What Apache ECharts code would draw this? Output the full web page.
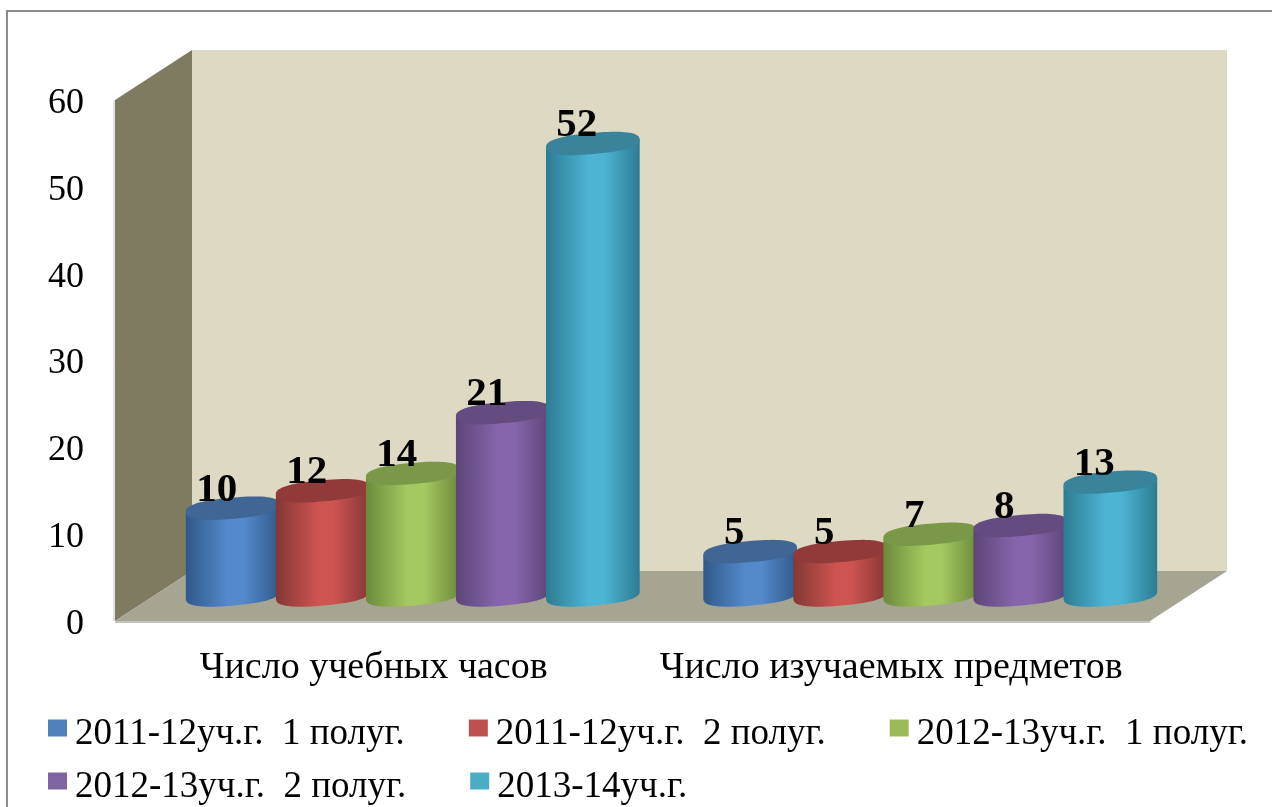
<!DOCTYPE html>
<html>
<head>
<meta charset="utf-8">
<style>
    html, body { margin: 0; padding: 0; background: #fff; }
    #main { width: 1272px; height: 807px; }
</style>
<script src="https://cdn.jsdelivr.net/npm/echarts@6/dist/echarts.min.js"></script>
</head>
<body>
<div id="main"></div>
<script>
const categories = ['Число учебных часов', 'Число изучаемых предметов'];
const seriesNames = ['2011-12уч.г.  1 полуг.', '2011-12уч.г.  2 полуг.', '2012-13уч.г.  1 полуг.', '2012-13уч.г.  2 полуг.', '2013-14уч.г.'];
const hours1112a = [10, 5];
const hours1112b = [12, 5];
const hours1213a = [14, 7];
const hours1213b = [21, 8];
const hours1314 = [52, 13];
const seriesValues = [hours1112a, hours1112b, hours1213a, hours1213b, hours1314];
const legendColors = ['#4F81BD', '#C0504D', '#9BBB59', '#8064A2', '#4BACC6'];
// 每个柱子的 边缘色 / 中间色 / 顶面色
const edgeColors = ['#30598A', '#853735', '#6C8A3C', '#5C4578', '#2C7C92'];
const midColors = ['#5489CC', '#CC5451', '#A6C860', '#8765AC', '#4DB4D4'];
const capColors = ['#3F6694', '#923A39', '#7B9849', '#644B80', '#39849B'];

const serif = '"Liberation Serif", serif';
// 三维纵深偏移
const depthX = 77, depthY = 50;
const barDepthX = 39, barDepthY = 26;
const tilt = -5 * Math.PI / 180;

// 旋转椭圆上的点，指数小于1让两端更圆钝
function ellipsePoint(cx, cy, rx, ry, t) {
    const c = Math.cos(t), s = Math.sin(t);
    const x = rx * Math.sign(c) * Math.pow(Math.abs(c), 0.8);
    const y = ry * Math.sign(s) * Math.pow(Math.abs(s), 0.8);
    return [cx + x * Math.cos(tilt) - y * Math.sin(tilt), cy + x * Math.sin(tilt) + y * Math.cos(tilt)];
}

function renderWalls(params, api) {
    const cs = params.coordSys;
    const x0 = cs.x, x1 = cs.x + cs.width;
    const y0 = api.coord([0, 0])[1], yTop = api.coord([0, 60])[1];
    return {
        type: 'group',
        children: [
            { type: 'polygon', shape: { points: [[x0 + depthX, yTop - depthY], [x1 + depthX, yTop - depthY], [x1 + depthX, y0 - depthY], [x0 + depthX, y0 - depthY]] }, style: { fill: '#DDD9C3' } },
            { type: 'polygon', shape: { points: [[x0, yTop], [x0 + depthX, yTop - depthY], [x0 + depthX, y0 - depthY], [x0, y0]] }, style: { fill: '#7F7B61' } },
            { type: 'polygon', shape: { points: [[x0, y0], [x0 + depthX, y0 - depthY], [x1 + depthX, y0 - depthY], [x1, y0]] }, style: { fill: '#A6A592' } },
            { type: 'line', shape: { x1: x0, y1: y0 + 1, x2: x1, y2: y0 + 1 }, style: { stroke: '#C4C4C4', lineWidth: 2 } },
            { type: 'line', shape: { x1: x0 - 1, y1: yTop, x2: x0 - 1, y2: y0 }, style: { stroke: '#C4C4C4', lineWidth: 1 } }
        ]
    };
}

function makeCylinder(i) {
    return function (params, api) {
        const catIndex = api.value(0);
        const band = api.size([1, 0])[0];
        const top = api.coord([catIndex, api.value(1)]);
        const base = api.coord([catIndex, 0]);
        const step = band * 0.174;
        const rx = step / 2 + 2, ry = 10.5;
        const cx = base[0] + barDepthX + (i - 2) * step;
        const topY = top[1] - barDepthY, baseY = base[1] - barDepthY;
        const body = [], cap = [];
        for (let k = 0; k <= 48; k++) {
            // 下半圆
            const t = Math.PI - Math.PI * k / 48;
            body.push(ellipsePoint(cx, baseY, rx, ry, t));
        }
        body.push(ellipsePoint(cx, topY, rx, ry, 0));
        body.push(ellipsePoint(cx, topY, rx, ry, Math.PI));
        for (let k = 0; k < 72; k++) {
            cap.push(ellipsePoint(cx, topY, rx, ry, Math.PI * 2 * k / 72));
        }
        return {
            type: 'group',
            children: [
                {
                    type: 'polygon',
                    shape: { points: body },
                    style: {
                        fill: new echarts.graphic.LinearGradient(0, 0, 1, 0, [
                            { offset: 0, color: edgeColors[i] },
                            { offset: 0.45, color: midColors[i] },
                            { offset: 0.62, color: midColors[i] },
                            { offset: 1, color: edgeColors[i] }
                        ])
                    }
                },
                { type: 'polygon', shape: { points: cap }, style: { fill: capColors[i] } },
                {
                    type: 'text',
                    z2: 100,
                    style: {
                        text: String(api.value(1)),
                        x: cx - 16,
                        y: topY - 18,
                        align: 'center',
                        verticalAlign: 'middle',
                        font: 'bold 41px ' + serif,
                        fill: '#000'
                    }
                }
            ]
        };
    };
}

const series = [{
    name: 'walls',
    type: 'custom',
    silent: true,
    renderItem: renderWalls,
    data: [[0, 0]],
    z: 1
}];
seriesValues.forEach((values, i) => {
    series.push({
        name: seriesNames[i],
        type: 'custom',
        renderItem: makeCylinder(i),
        itemStyle: { color: legendColors[i] },
        encode: { x: 0, y: 1 },
        data: values.map((v, c) => [c, v]),
        z: 2 + i
    });
});

function legendRow(names, left, top) {
    return {
        data: names.map(n => ({ name: n, icon: 'rect', itemStyle: { color: legendColors[seriesNames.indexOf(n)] } })),
        left: left,
        top: top,
        itemWidth: 19,
        itemHeight: 17,
        itemGap: 64,
        selectedMode: false,
        formatter: name => '{t|' + name + '}',
        // padding要放在rich里才会让文字下移
        textStyle: { rich: { t: { fontFamily: serif, fontSize: 37, color: '#000', padding: [13, 0, 0, 3] } } }
    };
}

let myChart = echarts.init(document.getElementById('main'));
let option = {
    backgroundColor: '#fff',
    animation: false,
    tooltip: { show: false },
    legend: [
        legendRow(seriesNames.slice(0, 3), 43, 711),
        legendRow(seriesNames.slice(3), 43, 764)
    ],
    grid: { left: 115, top: 100, width: 1035, height: 521 },
    xAxis: {
        type: 'category',
        data: categories,
        axisLine: { show: false },
        axisTick: { show: false },
        axisLabel: { interval: 0, hideOverlap: false, fontFamily: serif, fontSize: 38, color: '#000', margin: 28 }
    },
    yAxis: {
        type: 'value',
        min: 0,
        max: 60,
        interval: 10,
        axisLine: { show: false },
        axisTick: { show: false },
        splitLine: { show: false },
        axisLabel: {
            margin: 31,
            formatter: '{v|{value}}',
            rich: { v: { fontFamily: serif, fontSize: 36, color: '#000', padding: [7, 0, 0, 0] } }
        }
    },
    graphic: [{
        type: 'rect',
        silent: true,
        shape: { x: 7, y: 11, width: 1300, height: 900 },
        style: { fill: 'none', stroke: '#8C8C8C', lineWidth: 2 }
    }],
    series: series
};
myChart.setOption(option);
</script>
</body>
</html>
